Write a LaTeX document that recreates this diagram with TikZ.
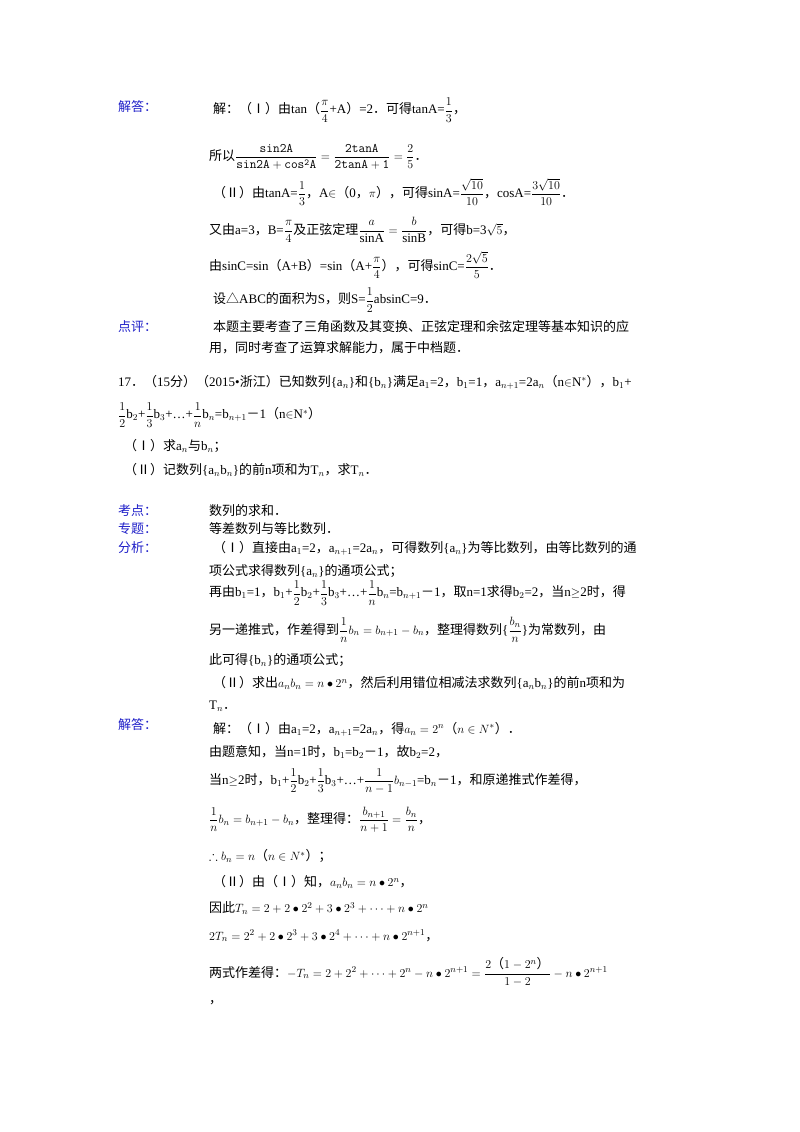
\documentclass[tikz,border=0pt]{standalone}
\usepackage{amsmath,amssymb}
\usepackage{fontspec}
\setmainfont{Liberation Serif}
\newfontfamily\cjk{Noto Sans CJK SC}
\newcommand{\zh}[1]{{\cjk #1}}
\newcommand{\zm}{{\cjk －}}
\definecolor{lblblue}{RGB}{30,30,200}
\begin{document}
\begin{tikzpicture}[x=1pt,y=-1pt,
  lbl/.style={anchor=west,inner sep=0,text=lblblue,font=\fontsize{13}{15}\selectfont\cjk},
  txt/.style={anchor=west,inner sep=0,font=\fontsize{13}{15}\selectfont}]
\useasboundingbox (0,0) rectangle (800,1132);
\node[lbl] (l1) at (118,107) {解答：};
\node[txt] (t1) at (213,110) {\zh{解：（Ⅰ）由}tan\zh{（}$\dfrac{\pi}{4}$+A\zh{）}=2\zh{．可得}tanA=$\dfrac{1}{3}$\zh{，}};
\node[txt] (t2) at (209,157) {\zh{所以}$\dfrac{\mathtt{sin2A}}{\mathtt{sin2A+cos^2A}}=\dfrac{\mathtt{2tanA}}{\mathtt{2tanA+1}}=\dfrac{2}{5}$\zh{．}};
\node[txt] (t3) at (213,192) {\zh{（Ⅱ）由}tanA=$\dfrac{1}{3}$\zh{，}A$\in$\zh{（}0\zh{，}$\pi$\zh{），可得}sinA=$\dfrac{\sqrt{10}}{10}$\zh{，}cosA=$\dfrac{3\sqrt{10}}{10}$\zh{．}};
\node[txt] (t4) at (209,230) {\zh{又由}a=3\zh{，}B=$\dfrac{\pi}{4}$\zh{及正弦定理}$\dfrac{a}{\mathrm{sinA}}=\dfrac{b}{\mathrm{sinB}}$\zh{，可得}b=3$\sqrt{5}$\zh{，}};
\node[txt] (t5) at (209,265) {\zh{由}sinC=sin\zh{（}A+B\zh{）}=sin\zh{（}A+$\dfrac{\pi}{4}$\zh{），可得}sinC=$\dfrac{2\sqrt{5}}{5}$\zh{．}};
\node[txt] (t6) at (213,300) {\zh{设△}ABC\zh{的面积为}S\zh{，则}S=$\dfrac{1}{2}$absinC=9\zh{．}};
\node[lbl] (l2) at (118,327) {点评：};
\node[txt] (t7) at (213,327) {\zh{本题主要考查了三角函数及其变换、正弦定理和余弦定理等基本知识的应}};
\node[txt] (t8) at (209,348) {\zh{用，同时考查了运算求解能力，属于中档题．}};
\node[txt] (p1) at (118,382) {17\zh{．（}15\zh{分）（}2015•\zh{浙江）已知数列}\{a$_n$\}\zh{和}\{b$_n$\}\zh{满足}a$_1$=2\zh{，}b$_1$=1\zh{，}a$_{n+1}$=2a$_n$\zh{（}n$\in$N$^*$\zh{），}b$_1$+};
\node[txt] (p2) at (118,415) {$\dfrac{1}{2}$b$_2$+$\dfrac{1}{3}$b$_3$+…+$\dfrac{1}{n}$b$_n$=b$_{n+1}$\zm1\zh{（}n$\in$N$^*$\zh{）}};
\node[txt] (p3) at (124,446) {\zh{（Ⅰ）求}a$_n$\zh{与}b$_n$\zh{；}};
\node[txt] (p4) at (124,470) {\zh{（Ⅱ）记数列}\{a$_n$b$_n$\}\zh{的前}n\zh{项和为}T$_n$\zh{，求}T$_n$\zh{．}};
\node[lbl] (l3) at (118,511) {考点：};
\node[txt] (a1) at (209,511) {\zh{数列的求和．}};
\node[lbl] (l4) at (118,529) {专题：};
\node[txt] (a2) at (209,529) {\zh{等差数列与等比数列．}};
\node[lbl] (l5) at (118,548) {分析：};
\node[txt] (a3) at (213,548) {\zh{（Ⅰ）直接由}a$_1$=2\zh{，}a$_{n+1}$=2a$_n$\zh{，可得数列}\{a$_n$\}\zh{为等比数列，由等比数列的通}};
\node[txt] (a4) at (209,571) {\zh{项公式求得数列}\{a$_n$\}\zh{的通项公式；}};
\node[txt] (a5) at (209,593) {\zh{再由}b$_1$=1\zh{，}b$_1$+$\dfrac{1}{2}$b$_2$+$\dfrac{1}{3}$b$_3$+…+$\dfrac{1}{n}$b$_n$=b$_{n+1}$\zm1\zh{，取}n=1\zh{求得}b$_2$=2\zh{，当}n$\geq$2\zh{时，得}};
\node[txt] (a6) at (209,630) {\zh{另一递推式，作差得到}$\dfrac{1}{n}b_n=b_{n+1}-b_n$\zh{，整理得数列}\{$\dfrac{b_n}{n}$\}\zh{为常数列，由}};
\node[txt] (a7) at (209,660) {\zh{此可得}\{b$_n$\}\zh{的通项公式；}};
\node[txt] (a8) at (213,683) {\zh{（Ⅱ）求出}$a_nb_n=n\bullet2^n$\zh{，然后利用错位相减法求数列}\{a$_n$b$_n$\}\zh{的前}n\zh{项和为}};
\node[txt] (a9) at (209,706) {T$_n$\zh{．}};
\node[lbl] (l6) at (118,725) {解答：};
\node[txt] (s1) at (213,729) {\zh{解：（Ⅰ）由}a$_1$=2\zh{，}a$_{n+1}$=2a$_n$\zh{，得}$a_n=2^n$\zh{（}$n\in N^*$\zh{）．}};
\node[txt] (s2) at (209,752) {\zh{由题意知，当}n=1\zh{时，}b$_1$=b$_2$\zm1\zh{，故}b$_2$=2\zh{，}};
\node[txt] (s3) at (209,781) {\zh{当}n$\geq$2\zh{时，}b$_1$+$\dfrac{1}{2}$b$_2$+$\dfrac{1}{3}$b$_3$+…+$\dfrac{1}{n-1}b_{n-1}$=b$_n$\zm1\zh{，和原递推式作差得，}};
\node[txt] (s4) at (209,820) {$\dfrac{1}{n}b_n=b_{n+1}-b_n$\zh{，整理得：}$\dfrac{b_{n+1}}{n+1}=\dfrac{b_n}{n}$\zh{，}};
\node[txt] (s5) at (209,856) {$\therefore b_n=n$\zh{（}$n\in N^*$\zh{）；}};
\node[txt] (s6) at (213,882) {\zh{（Ⅱ）由（Ⅰ）知，}$a_nb_n=n\bullet2^n$\zh{，}};
\node[txt] (s7) at (209,908) {\zh{因此}$T_n=2+2\bullet2^2+3\bullet2^3+\cdots+n\bullet2^n$};
\node[txt] (s8) at (209,936) {$2T_n=2^2+2\bullet2^3+3\bullet2^4+\cdots+n\bullet2^{n+1}$\zh{，}};
\node[txt] (s9) at (209,972) {\zh{两式作差得：}$-T_n=2+2^2+\cdots+2^n-n\bullet2^{n+1}=\dfrac{2\text{\zh{（}}1-2^n\text{\zh{）}}}{1-2}-n\bullet2^{n+1}$};
\node[txt] (s10) at (209,1003) {\zh{，}};
\end{tikzpicture}
\end{document}
